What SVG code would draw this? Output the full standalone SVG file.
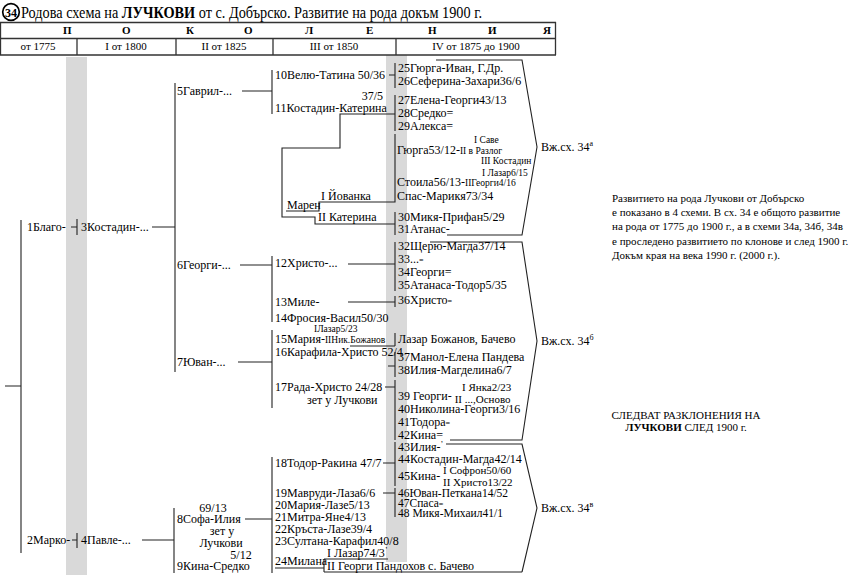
<svg xmlns="http://www.w3.org/2000/svg" width="850" height="575" viewBox="0 0 850 575">
<style>
text{font-family:"Liberation Serif","Times New Roman",serif;font-size:12px;fill:#000}
.s{font-size:9.5px}
.m{font-size:11px}
.c{font-size:11.5px}
.h{font-size:11px;font-weight:bold}
.hd{font-size:11px;text-anchor:middle}
.eq{font-size:8px}
.ln{stroke:#222;stroke-width:1.1;fill:none}
.tb{stroke:#333;stroke-width:1.3;fill:none}
.band{fill:#d9d9d9}
</style>
<rect width="850" height="575" fill="#fff"/>
<g id="bands">
<rect class="band" x="66" y="57" width="21" height="518"/>
<rect class="band" x="386" y="55" width="21" height="507"/>
</g>
<g id="title">
<circle cx="11" cy="12" r="8.3" fill="none" stroke="#000" stroke-width="1.7"/>
<text x="11" y="16.5" text-anchor="middle" style="font-size:12px;font-weight:bold">34</text>
<text x="21" y="18" style="font-size:16px" textLength="461" lengthAdjust="spacingAndGlyphs">Родова схема на <tspan font-weight="bold">ЛУЧКОВИ</tspan> от с. Добърско. Развитие на рода докъм 1900 г.</text>
</g>
<g id="header">
<path class="tb" d="M0,22.5H556M0,38.5H556M0,55H556M0.5,22V55M555.5,22V55M77,38V55M176,38V55M273,38V55M396,38V55"/>
<text class="h" x="63" y="34">П</text>
<text class="h" x="122" y="34">О</text>
<text class="h" x="186" y="34">К</text>
<text class="h" x="244" y="34">О</text>
<text class="h" x="305" y="34">Л</text>
<text class="h" x="366" y="34">Е</text>
<text class="h" x="428" y="34">Н</text>
<text class="h" x="488" y="34">И</text>
<text class="h" x="543" y="34">Я</text>
<text class="hd" x="38" y="50">от 1775</text>
<text class="hd" x="126" y="50">I от 1800</text>
<text class="hd" x="224" y="50">II от 1825</text>
<text class="hd" x="334" y="50">III от 1850</text>
<text class="hd" x="476" y="50">IV от 1875 до 1900</text>
</g>
<g id="connectors">
<path class="ln" d="M21,220V553M5,386H21"/>
<path class="ln" d="M71,227H77M77,219V235M72,540H77M77,533V548"/>
<path class="ln" d="M152,227H175M175,83V372M142,540H174M174,508V573"/>
<path class="ln" d="M242,91H272M272,70V114M240,265H272M272,256V322M238,362H272M272,330V408M245,519H272M272,457V573"/>
<path class="ln" d="M389,75H395M395,63V88"/>
<path class="ln" d="M395,114H340V148H282V217H315V224H395M395,95V131M395,212V235"/>
<path class="ln" d="M286,211H319V202H395V134"/>
<path class="ln" d="M348,264H395M395,242V291M348,302H395M395,296V307"/>
<path class="ln" d="M350,346H395M395,333V346M388,366H395M395,352V377M385,387H395M395,380V440"/>
<path class="ln" d="M383,463H395M395,442V486M383,493H395M395,488V517"/>
<path class="ln" d="M275,568H324M324,559V572M324,559H388M324,572H522"/>
<path class="ln" d="M436,60H522L537,147L522,235H447"/>
<path class="ln" d="M430,242H522L537,341L522,440H450"/>
<path class="ln" d="M446,444H522L537,508L522,572"/>
</g>
<g id="n1"><text x="27" y="231">1Благо-</text></g>
<g id="n2"><text x="27" y="544">2Марко-</text></g>
<g id="n3"><text x="81" y="231">3Костадин-...</text></g>
<g id="n4"><text x="81" y="544">4Павле-...</text></g>
<g id="n5"><text x="177" y="95">5Гаврил-...</text></g>
<g id="n6"><text x="177" y="269">6Георги-...</text></g>
<g id="n7"><text x="177" y="366">7Юван-...</text></g>
<g id="n8"><text x="213" y="512" text-anchor="middle">69/13</text><text x="177" y="523">8Софа-Илия</text><text x="222" y="535" text-anchor="middle">зет у</text><text x="221" y="547" text-anchor="middle">Лучкови</text></g>
<g id="n9"><text x="241" y="559" text-anchor="middle">5/12</text><text x="177" y="570">9Кина-Средко</text></g>
<g id="n10"><text x="275" y="79">10Велю-Татина 50/36</text></g>
<g id="n11"><text x="383" y="100" text-anchor="end">37/5</text><text x="275" y="112">11Костадин-Катерина</text></g>
<g id="n-maren"><text x="287" y="209">Марен</text><text x="321" y="200">I Йованка</text><text x="318" y="221">II Катерина</text></g>
<g id="n12"><text x="275" y="267">12Христо-...</text></g>
<g id="n13"><text x="275" y="306">13Миле-</text></g>
<g id="n14"><text x="275" y="322">14Фросия-Васил50/30</text></g>
<g id="n15"><text class="s" x="314" y="332">IЛазар5/23</text><text x="275" y="343">15Мария-<tspan class="s">IIНик.Божанов</tspan></text></g>
<g id="n16"><text x="275" y="356">16Карафила-Христо 52/4</text></g>
<g id="n17"><text x="275" y="391">17Рада-Христо 24/28</text><text x="307" y="404">зет у Лучкови</text></g>
<g id="n18"><text x="275" y="467">18Тодор-Ракина 47/7</text></g>
<g id="n19"><text x="275" y="497">19Мавруди-Лаза6/6</text></g>
<g id="n20"><text x="275" y="509">20Мария-Лазе5/13</text></g>
<g id="n21"><text x="275" y="521">21Митра-Яне4/13</text></g>
<g id="n22"><text x="275" y="533">22Кръста-Лазе39/4</text></g>
<g id="n23"><text x="275" y="545">23Султана-Карафил40/8</text></g>
<g id="n24"><text x="275" y="565">24Милана</text><text x="327" y="557">I Лазар74/3<tspan class="eq" dy="-4">ʼ</tspan></text><text x="327" y="570">II Георги Пандохов с. Бачево</text></g>
<g id="n25"><text x="398" y="72">25Гюрга-Иван, Г.Др.</text></g>
<g id="n26"><text x="398" y="85">26Сеферина-Захари36/6</text></g>
<g id="n27"><text x="398" y="104">27Елена-Георги43/13</text></g>
<g id="n28"><text x="398" y="117">28Средко=</text></g>
<g id="n29"><text x="398" y="130">29Алекса=</text></g>
<g id="n-gyurga"><text class="s" x="474" y="143">I Саве</text><text x="397" y="154">Гюрга53/12-<tspan class="s">II в Разлог</tspan></text><text class="s" x="481" y="164">III Костадин</text></g>
<g id="n-stoila"><text class="s" x="482" y="176">I Лазар6/15</text><text x="397" y="186">Стоила56/13-<tspan class="s">IIГеорги4/16</tspan></text></g>
<g id="n-spas"><text x="397" y="200">Спас-Марикя73/34</text></g>
<g id="n30"><text x="398" y="221">30Микя-Прифан5/29</text></g>
<g id="n31"><text x="398" y="233">31Атанас-</text></g>
<g id="n32"><text x="398" y="250">32Щерю-Магда37/14</text></g>
<g id="n33"><text x="398" y="263">33...<tspan class="eq">=</tspan></text></g>
<g id="n34"><text x="398" y="276">34Георги=</text></g>
<g id="n35"><text x="398" y="289">35Атанаса-Тодор5/35</text></g>
<g id="n36"><text x="398" y="304">36Христо<tspan class="eq">=</tspan></text></g>
<g id="n-lazar"><text x="398" y="343">Лазар Божанов, Бачево</text></g>
<g id="n37"><text x="398" y="361">37Манол-Елена Пандева</text></g>
<g id="n38"><text x="398" y="374">38Илия-Магделина6/7</text></g>
<g id="n39"><text class="m" x="462" y="391">I Янка2/23</text><text x="398" y="400">39 Георги- <tspan class="m" dy="3">II ...,Осново</tspan></text></g>
<g id="n40"><text x="398" y="413">40Николина-Георги3/16</text></g>
<g id="n41"><text x="398" y="426">41Тодора<tspan class="eq">=</tspan></text></g>
<g id="n42"><text x="398" y="439">42Кина=</text></g>
<g id="n43"><text x="398" y="451">43Илия-<tspan class="eq" dy="-4">ʼ</tspan></text></g>
<g id="n44"><text x="398" y="463">44Костадин-Магда42/14</text></g>
<g id="n45"><text x="398" y="480">45Кина-</text><text class="m" x="443" y="474">I Софрон50/60</text><text class="m" x="443" y="486">II Христо13/22</text></g>
<g id="n46"><text class="c" x="398" y="497">46Юван-Петкана14/52</text></g>
<g id="n47"><text class="c" x="398" y="507">47Спаса<tspan class="eq">=</tspan></text></g>
<g id="n48"><text class="c" x="398" y="517">48 Микя-Михаил41/1</text></g>
<g id="refs">
<text x="541" y="151">Вж.сх. 34<tspan class="eq" dy="-5">а</tspan></text>
<text x="541" y="345">Вж.сх. 34<tspan class="eq" dy="-5">б</tspan></text>
<text x="541" y="512">Вж.сх. 34<tspan class="eq" dy="-5">в</tspan></text>
</g>
<g id="note">
<text class="m" x="612" y="202">Развитието на рода Лучкови от Добърско</text>
<text class="m" x="612" y="216">е показано в 4 схеми. В сх. 34 е общото развитие</text>
<text class="m" x="612" y="230">на рода от 1775 до 1900 г., а в схеми 34а, 34б, 34в</text>
<text class="m" x="612" y="245">е проследено развитието по клонове и след 1900 г.</text>
<text class="m" x="612" y="259">Докъм края на века 1990 г. (2000 г.).</text>
</g>
<g id="follow">
<text class="m" x="686" y="419" text-anchor="middle">СЛЕДВАТ РАЗКЛОНЕНИЯ НА</text>
<text class="m" x="686" y="431" text-anchor="middle"><tspan font-weight="bold">ЛУЧКОВИ</tspan> СЛЕД 1900 г.</text>
</g>
</svg>
